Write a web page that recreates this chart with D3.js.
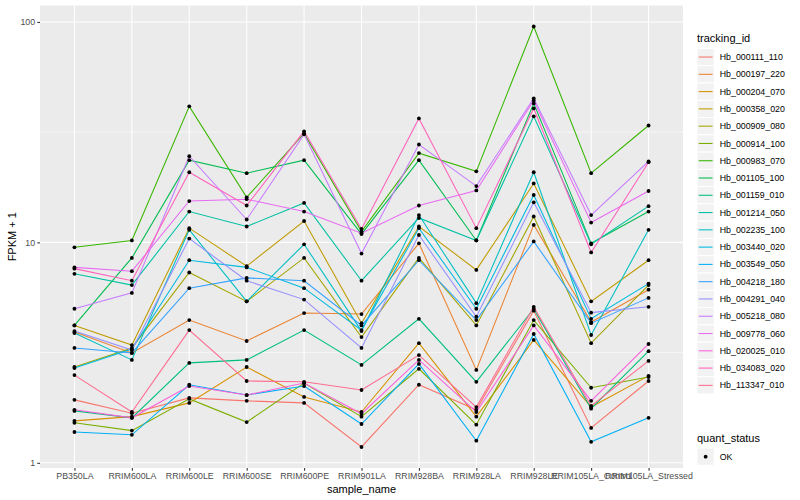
<!DOCTYPE html>
<html>
<head>
<meta charset="utf-8">
<script src="https://cdn.jsdelivr.net/npm/d3@7"></script>
<style>
  body { margin: 0; background: #fff; }
  text { font-family: "Liberation Sans", Arial, Helvetica, sans-serif; }
</style>
</head>
<body>
<svg id="chart" width="800" height="500"></svg>
<script>
// x categories
const sampleNames = ["PB350LA", "RRIM600LA", "RRIM600LE", "RRIM600SE", "RRIM600PE", "RRIM901LA",
  "RRIM928BA", "RRIM928LA", "RRIM928LE", "RRIM105LA_Control", "RRIM105LA_Stressed"];

// FPKM + 1, one array per gene
const hb_000111_110 = [1.93, 1.68, 1.97, 1.91, 1.87, 1.18, 2.26, 1.74, 4.9, 1.44, 2.35];
const hb_000197_220 = [3.92, 3.15, 4.44, 3.57, 4.78, 4.73, 9.9, 2.64, 12.0, 4.35, 6.1];
const hb_000204_070 = [1.55, 1.62, 1.87, 2.72, 1.99, 1.70, 3.49, 1.62, 3.61, 1.79, 2.48];
const hb_000358_020 = [4.2, 3.42, 11.6, 7.8, 12.5, 4.3, 11.8, 7.5, 18.5, 5.4, 8.3];
const hb_000909_080 = [2.72, 3.32, 7.3, 5.4, 8.5, 3.72, 8.5, 4.2, 13.1, 3.49, 6.4];
const hb_000914_100 = [1.52, 1.40, 1.95, 1.53, 2.30, 1.62, 2.67, 1.49, 4.44, 2.19, 2.45];
const hb_000983_070 = [9.5, 10.2, 41.4, 16.0, 31.2, 11.2, 25.4, 21.0, 95.3, 20.6, 33.9];
const hb_001105_100 = [4.2, 8.5, 23.6, 20.6, 23.6, 10.9, 23.6, 10.2, 42.7, 9.9, 13.8];
const hb_001159_010 = [1.72, 1.60, 2.84, 2.93, 4.0, 2.78, 4.5, 2.33, 5.0, 1.76, 3.21];
const hb_001214_050 = [7.2, 6.4, 13.8, 11.8, 15.1, 6.7, 12.9, 10.2, 37.3, 9.8, 14.6];
const hb_002235_100 = [3.88, 2.93, 11.4, 5.4, 9.8, 3.96, 13.3, 5.3, 20.8, 3.80, 11.4];
const hb_003440_020 = [2.69, 3.28, 8.3, 7.7, 6.2, 4.0, 11.6, 5.0, 16.4, 4.5, 6.5];
const hb_003549_050 = [1.38, 1.34, 2.26, 2.03, 2.23, 1.50, 2.81, 1.26, 3.84, 1.245, 1.60];
const hb_004218_180 = [3.32, 3.15, 6.2, 6.9, 6.7, 4.2, 8.3, 4.44, 10.1, 4.3, 5.6];
const hb_004291_040 = [3.96, 3.25, 10.4, 6.7, 5.5, 3.32, 10.8, 4.6, 15.2, 4.8, 5.1];
const hb_005218_080 = [5.0, 5.9, 24.6, 12.7, 30.9, 8.9, 27.8, 18.0, 45.0, 13.3, 23.3];
const hb_009778_060 = [7.7, 7.4, 15.4, 15.7, 13.8, 11.0, 14.7, 17.2, 44.0, 12.3, 17.1];
const hb_020025_010 = [1.74, 1.60, 2.23, 2.03, 2.30, 1.67, 2.93, 1.70, 4.2, 1.91, 3.46];
const hb_034083_020 = [7.6, 6.7, 20.8, 14.7, 31.9, 11.5, 36.5, 11.6, 40.5, 9.0, 23.1];
const hb_113347_010 = [2.50, 1.70, 4.0, 2.35, 2.33, 2.14, 3.08, 1.79, 5.1, 1.81, 2.90];

const trackingIds = ["Hb_000111_110", "Hb_000197_220", "Hb_000204_070", "Hb_000358_020", "Hb_000909_080",
  "Hb_000914_100", "Hb_000983_070", "Hb_001105_100", "Hb_001159_010", "Hb_001214_050", "Hb_002235_100",
  "Hb_003440_020", "Hb_003549_050", "Hb_004218_180", "Hb_004291_040", "Hb_005218_080", "Hb_009778_060",
  "Hb_020025_010", "Hb_034083_020", "Hb_113347_010"];
const seriesValues = [hb_000111_110, hb_000197_220, hb_000204_070, hb_000358_020, hb_000909_080,
  hb_000914_100, hb_000983_070, hb_001105_100, hb_001159_010, hb_001214_050, hb_002235_100,
  hb_003440_020, hb_003549_050, hb_004218_180, hb_004291_040, hb_005218_080, hb_009778_060,
  hb_020025_010, hb_034083_020, hb_113347_010];
const yTicks = [1, 10, 100];
const quantStatus = ["OK"];

// ggplot hue palette for 20 levels
const palette = ["#F8766D", "#EA8331", "#D89000", "#C09B00", "#A3A500", "#7CAE00", "#39B600", "#00BB4E",
  "#00BF7D", "#00C1A3", "#00BFC4", "#00BAE0", "#00B0F6", "#35A2FF", "#9590FF", "#C77CFF", "#E76BF3",
  "#FA62DB", "#FF62BC", "#FF6C91"];

const series = trackingIds.map((id, i) => ({
  id: id,
  points: seriesValues[i].map((v, j) => ({ sample: sampleNames[j], value: v }))
}));

const svg = d3.select("#chart");
const panel = { left: 40, right: 683, top: 5.5, bottom: 468 };

const x = d3.scalePoint()
  .domain(sampleNames)
  .range([panel.left, panel.right])
  .padding(0.6);

// log scale with 5% expansion like ggplot
const allVals = seriesValues.flat();
const lo = Math.log10(d3.min(allVals)), hi = Math.log10(d3.max(allVals));
const pad = (hi - lo) * 0.05;
const y = d3.scaleLog()
  .domain([Math.pow(10, lo - pad), Math.pow(10, hi + pad)])
  .range([panel.bottom, panel.top]);

const colour = d3.scaleOrdinal().domain(trackingIds).range(palette);

// panel background
svg.append("rect")
  .attr("x", panel.left).attr("y", panel.top)
  .attr("width", panel.right - panel.left).attr("height", panel.bottom - panel.top)
  .attr("fill", "#EBEBEB");

// minor grid (half decades)
const minor = [Math.sqrt(10), Math.sqrt(1000)];
svg.append("g").selectAll("line")
  .data(minor)
  .join("line")
  .attr("x1", panel.left).attr("x2", panel.right)
  .attr("y1", d => y(d)).attr("y2", d => y(d))
  .attr("stroke", "#fff").attr("stroke-width", 0.55);

// major grid
svg.append("g").selectAll("line")
  .data(yTicks)
  .join("line")
  .attr("x1", panel.left).attr("x2", panel.right)
  .attr("y1", d => y(d)).attr("y2", d => y(d))
  .attr("stroke", "#fff").attr("stroke-width", 1.07);

svg.append("g").selectAll("line")
  .data(sampleNames)
  .join("line")
  .attr("x1", d => x(d)).attr("x2", d => x(d))
  .attr("y1", panel.top).attr("y2", panel.bottom)
  .attr("stroke", "#fff").attr("stroke-width", 1.07);

// axes
const xAxis = svg.append("g")
  .attr("transform", `translate(0,${panel.bottom})`)
  .call(d3.axisBottom(x).tickSize(2.75).tickPadding(2.2));
const yAxis = svg.append("g")
  .attr("transform", `translate(${panel.left},0)`)
  .call(d3.axisLeft(y).tickValues(yTicks).tickFormat(d3.format("d")).tickSize(2.75).tickPadding(2.2));

[xAxis, yAxis].forEach(a => {
  a.select(".domain").remove();
  a.selectAll(".tick line").attr("stroke", "#333333").attr("stroke-width", 1.07);
  a.selectAll(".tick text").attr("fill", "#4D4D4D").attr("font-size", 8.8)
    .attr("font-family", "Liberation Sans, Arial, sans-serif");
});

// lines
const line = d3.line()
  .x(d => x(d.sample))
  .y(d => y(d.value));

svg.append("g")
  .selectAll("path")
  .data(series)
  .join("path")
  .attr("d", d => line(d.points))
  .attr("fill", "none")
  .attr("stroke", d => colour(d.id))
  .attr("stroke-width", 1.07);

// points
svg.append("g")
  .selectAll("circle")
  .data(series.flatMap(s => s.points))
  .join("circle")
  .attr("cx", d => x(d.sample))
  .attr("cy", d => y(d.value))
  .attr("r", 1.9)
  .attr("fill", "#000");

// axis titles
svg.append("text")
  .attr("x", (panel.left + panel.right) / 2).attr("y", 492.5)
  .attr("text-anchor", "middle").attr("font-size", 11)
  .text("sample_name");

svg.append("text")
  .attr("transform", `translate(15.5,${(panel.top + panel.bottom) / 2}) rotate(-90)`)
  .attr("text-anchor", "middle").attr("font-size", 11)
  .text("FPKM + 1");

// legend: tracking_id
const keySize = 17.28;
const legX = 697, legY = 48.4;
svg.append("text")
  .attr("x", legX).attr("y", 42)
  .attr("font-size", 11)
  .text("tracking_id");

const leg = svg.append("g")
  .selectAll("g")
  .data(trackingIds)
  .join("g")
  .attr("transform", (d, i) => `translate(${legX},${legY + i * keySize})`);

leg.append("rect")
  .attr("width", keySize).attr("height", keySize)
  .attr("fill", "#F2F2F2").attr("stroke", "#fff").attr("stroke-width", 1);
leg.append("line")
  .attr("x1", 1.7).attr("x2", keySize - 1.7)
  .attr("y1", keySize / 2).attr("y2", keySize / 2)
  .attr("stroke", d => colour(d)).attr("stroke-width", 1.07);
leg.append("text")
  .attr("x", keySize + 5.5).attr("y", keySize / 2)
  .attr("dy", "0.35em")
  .attr("font-size", 8.8)
  .text(d => d);

// legend: quant_status
const qY = 448;
svg.append("text")
  .attr("x", legX).attr("y", 442)
  .attr("font-size", 11)
  .text("quant_status");

const qLeg = svg.append("g")
  .selectAll("g")
  .data(quantStatus)
  .join("g")
  .attr("transform", (d, i) => `translate(${legX},${qY + i * keySize})`);
qLeg.append("rect")
  .attr("width", keySize).attr("height", keySize)
  .attr("fill", "#F2F2F2").attr("stroke", "#fff").attr("stroke-width", 1);
qLeg.append("circle")
  .attr("cx", keySize / 2).attr("cy", keySize / 2)
  .attr("r", 1.9).attr("fill", "#000");
qLeg.append("text")
  .attr("x", keySize + 5.5).attr("y", keySize / 2)
  .attr("dy", "0.35em")
  .attr("font-size", 8.8)
  .text(d => d);
</script>
</body>
</html>
